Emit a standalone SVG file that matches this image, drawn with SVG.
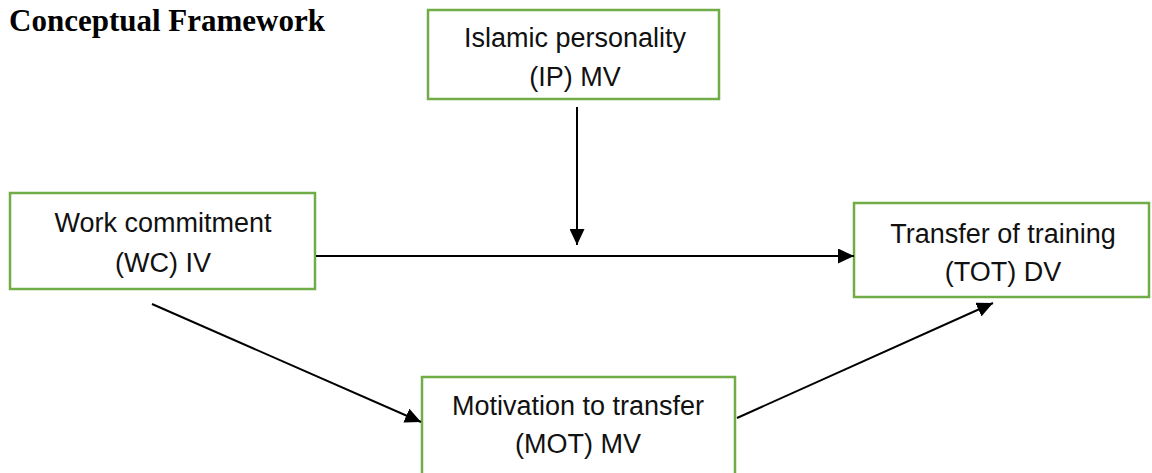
<svg xmlns="http://www.w3.org/2000/svg" width="1152" height="473" viewBox="0 0 1152 473">
<style>
.box{fill:#fff;stroke:#70AD47;stroke-width:2.5}
.lbl{font-family:"Liberation Sans",Arial,sans-serif;font-size:27px;fill:#111;text-anchor:middle}
.conn{stroke:#000;stroke-width:2;fill:none;marker-end:url(#ah)}
.title{font-family:"Liberation Serif","Times New Roman",serif;font-weight:bold;font-size:31px;fill:#000}
</style>
<defs>
<marker id="ah" markerUnits="userSpaceOnUse" markerWidth="16" markerHeight="15" refX="16" refY="7.5" orient="auto">
<path d="M0,0 L16,7.5 L0,15 z" fill="#000"/>
</marker>
</defs>
<rect width="1152" height="473" fill="#fff"/>
<text class="title" x="9" y="31">Conceptual Framework</text>
<g id="ip"><rect class="box" x="428" y="10" width="291" height="89"/>
<text class="lbl" x="575" y="47">Islamic personality</text><text class="lbl" x="575" y="86">(IP) MV</text></g>
<g id="wc"><rect class="box" x="10" y="193" width="305" height="96"/>
<text class="lbl" x="163" y="232">Work commitment</text><text class="lbl" x="163" y="272">(WC) IV</text></g>
<g id="tot"><rect class="box" x="854" y="203" width="295" height="94"/>
<text class="lbl" x="1003" y="243">Transfer of training</text><text class="lbl" x="1003" y="281">(TOT) DV</text></g>
<g id="mot"><rect class="box" x="422" y="377" width="313" height="110"/>
<text class="lbl" x="578" y="415">Motivation to transfer</text><text class="lbl" x="578" y="453">(MOT) MV</text></g>
<g id="connectors">
<line class="conn" x1="577" y1="107" x2="577" y2="245"/>
<line class="conn" x1="316" y1="256" x2="854" y2="256"/>
<line class="conn" x1="152" y1="304" x2="421" y2="422"/>
<line class="conn" x1="737" y1="418" x2="993" y2="303"/>
</g>
</svg>
